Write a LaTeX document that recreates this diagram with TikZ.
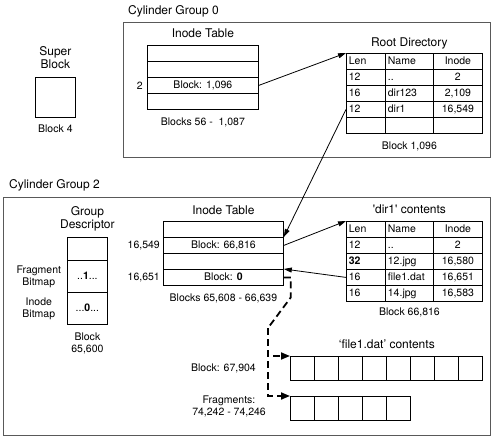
\documentclass[tikz,border=0pt]{standalone}
\usepackage{fontspec}
\setmainfont{TeX Gyre Heros}
\usetikzlibrary{arrows.meta, positioning}
\newcommand{\ttlfont}{\fontsize{12}{13}\selectfont}
\newcommand{\cellfont}{\fontsize{10.5}{12}\selectfont}

\begin{document}
\begin{tikzpicture}[
        x=1pt, y=-1pt,
        node distance=4pt,
        ttl/.style={font=\ttlfont, align=center, inner sep=0pt},
        note/.style={font=\cellfont, align=center, inner sep=0pt},
        grp/.style={draw=black!65, line width=1pt, anchor=north west, inner sep=0pt},
        cell/.style={draw, line width=0.8pt, font=\cellfont, inner sep=0pt, minimum height=16pt, text height=7.5pt, text depth=0.5pt, anchor=north west},
        lencol/.style={cell, minimum width=39pt, text width=34pt, align=left},
        namecol/.style={cell, minimum width=48pt, text width=43pt, align=left},
        inodecol/.style={cell, minimum width=49pt, align=center},
        fcell/.style={draw, line width=0.8pt, minimum size=24pt, inner sep=0pt, anchor=north west},
        arrow/.style={line width=0.8pt, -{Triangle[length=8pt, width=5pt]}},
        dashline/.style={line width=1.8pt, dash pattern=on 7pt off 4pt},
        dasharrow/.style={dashline, -{Triangle[length=9pt, width=7pt]}}
    ]
        \useasboundingbox (0,0) rectangle (500,441);

        % super block
        \node [grp, draw=black, line width=0.8pt, minimum size=40pt] (sb) at (35,77) {};
        \node [ttl, above=8pt of sb] (sbttl) {Super\\Block};
        \node [note, below=6.5pt of sb] (sbblk) {Block 4};

        % cylinder group 0
        \node [grp, minimum width=367pt, minimum height=135pt] (cg0) at (123,22) {};
        \node [ttl, above right=4.5pt and 5pt of cg0.north west] (cg0ttl) {Cylinder Group 0};

        \foreach \txt [count=\r] in {{}, {}, {Block: 1,096}, {}}
            \node [cell, minimum width=111pt] (ita-\r) at (147, 29+16*\r) {\txt};
        \node [ttl, above=7pt of ita-1] (itattl) {Inode Table};
        \node [note, below=8pt of ita-4] (itablk) {Blocks 56 -\ \ 1,087};
        \node [note, left=4pt of ita-3] (itaino) {2};

        \foreach \len/\fname/\ino [count=\r] in {Len/Name/Inode, 12/../2, 16/dir123/{2,109}, 12/dir1/{16,549}, {}/{}/{}} {
            \node [lencol] (rd-\r-1) at (346, 37+16*\r) {\len};
            \node [namecol] (rd-\r-2) at (385, 37+16*\r) {\fname};
            \node [inodecol] (rd-\r-3) at (433, 37+16*\r) {\ino};
        }
        \node [ttl, above=3.5pt of rd-1-2] (rdttl) {Root Directory};
        \node [note, below=7.5pt of rd-5-2] (rdblk) {Block 1,096};

        % cylinder group 2
        \node [grp, minimum width=487pt, minimum height=238pt] (cg2) at (3,197) {};
        \node [ttl, above right=5.5pt and 6pt of cg2.north west] (cg2ttl) {Cylinder Group 2};

        \node [cell, minimum width=40pt, minimum height=23pt] (gd-1) at (67,237) {};
        \node [cell, minimum width=40pt, minimum height=32pt] (gd-2) at (67,260) {..\textbf{1}...};
        \node [cell, minimum width=40pt, minimum height=32pt] (gd-3) at (67,292) {...\textbf{0}...};
        \node [ttl, above=5.5pt of gd-1] (gdttl) {Group\\Descriptor};
        \node [note, below=8pt of gd-3] (gdblk) {Block\\65,600};
        \node [note, text width=46pt, left=5pt of gd-2] (fragbm) {Fragment\\Bitmap};
        \node [note, text width=46pt, left=5pt of gd-3] (inobm) {Inode\\Bitmap};

        \foreach \txt [count=\r] in {{}, {Block: 66,816}, {}, {Block: \textbf{0}}}
            \node [cell, minimum width=120pt] (itb-\r) at (163, 205+16*\r) {\txt};
        \node [ttl, above=6pt of itb-1] (itbttl) {Inode Table};
        \node [note, below=8pt of itb-4] (itbblk) {Blocks 65,608 - 66,639};
        \node [note, left=3pt of itb-2] (itbino1) {16,549};
        \node [note, left=3pt of itb-4] (itbino2) {16,651};

        \foreach \len/\fname/\ino [count=\r] in {Len/Name/Inode, 12/../2, \textbf{32}/12.jpg/{16,580}, 16/file1.dat/{16,651}, 16/14.jpg/{16,583}} {
            \node [lencol] (dc-\r-1) at (346, 205+16*\r) {\len};
            \node [namecol] (dc-\r-2) at (385, 205+16*\r) {\fname};
            \node [inodecol] (dc-\r-3) at (433, 205+16*\r) {\ino};
        }
        \node [ttl, above=7pt of dc-1-2] (dcttl) {\textquotesingle dir1\textquotesingle{} contents};
        \node [note, below=6pt of dc-5-2] (dcblk) {Block 66,816};

        % file1.dat blocks and fragments
        \foreach \i in {1,...,8}
            \node [fcell] (fb-\i) at (266+24*\i, 356) {};
        \foreach \i in {1,...,5}
            \node [fcell] (fr-\i) at (266+24*\i, 396) {};
        \node [ttl, above=7pt of fb-4.north east] (fbttl) {`file1.dat' contents};
        \node [note, left=34pt of fb-1] (fblbl) {Block: 67,904};
        \node [note, left=24pt of fr-1, yshift=2pt] (frlbl) {Fragments:\\74,242 - 74,246};

        % pointers
        \draw [arrow] (ita-3.east) -- (rd-1-1.north west);
        \draw [arrow] (rd-4-1.west) -- (itb-2.north east);
        \draw [arrow] (itb-2.east) -- (dc-1-1.north west);
        \draw [arrow] (dc-4-1.west) -- (itb-4.north east);

        \coordinate (bend) at (268,328);
        \draw [dashline] (itb-4.east) -- ++(7,0) -- ++(0,20) -- (bend);
        \draw [dasharrow] (bend) |- (fb-1.north west);
        \draw [dasharrow] (bend) |- (fr-1.north west);
    \end{tikzpicture}
\end{document}
